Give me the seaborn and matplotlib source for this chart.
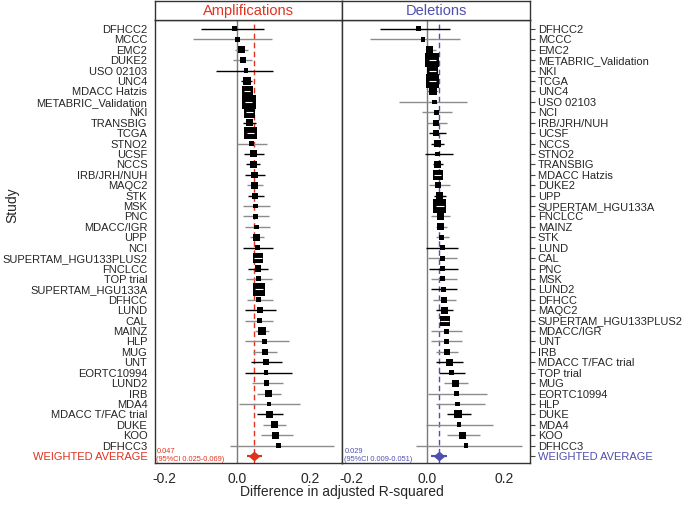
"""Forest plot: difference in adjusted R-squared per study, amplifications vs deletions."""

import matplotlib.pyplot as plt
import numpy as np
import pandas as pd
import seaborn as sns
from matplotlib.path import Path

RED = "#e0321f"
BLUE = "#4f4fb0"
GRAY_CI = "#8c8c8c"

# ---- Amplifications ----
amp_studies = [
    "DFHCC2", "MCCC", "EMC2", "DUKE2", "USO 02103", "UNC4", "MDACC Hatzis",
    "METABRIC_Validation", "NKI", "TRANSBIG", "TCGA", "STNO2", "UCSF", "NCCS",
    "IRB/JRH/NUH", "MAQC2", "STK", "MSK", "PNC", "MDACC/IGR", "UPP", "NCI",
    "SUPERTAM_HGU133PLUS2", "FNCLCC", "TOP trial", "SUPERTAM_HGU133A", "DFHCC",
    "LUND", "CAL", "MAINZ", "HLP", "MUG", "UNT", "EORTC10994", "LUND2", "IRB",
    "MDA4", "MDACC T/FAC trial", "DUKE", "KOO", "DFHCC3",
]
amp_est = [-0.007, 0.000, 0.010, 0.015, 0.024, 0.026, 0.027, 0.031, 0.034, 0.033, 0.036,
           0.039, 0.045, 0.045, 0.047, 0.047, 0.049, 0.050, 0.050, 0.052, 0.053, 0.055,
           0.057, 0.057, 0.057, 0.059, 0.059, 0.061, 0.061, 0.068, 0.075, 0.076, 0.079,
           0.079, 0.080, 0.086, 0.087, 0.087, 0.102, 0.105, 0.113]
amp_lo = [-0.100, -0.123, -0.007, -0.012, -0.060, 0.011, 0.018, 0.022, 0.024, 0.016, 0.026,
          0.000, 0.017, 0.024, 0.020, 0.025, 0.029, 0.015, 0.015, 0.020, 0.036, 0.014,
          0.045, 0.028, 0.024, 0.048, 0.025, 0.020, 0.021, 0.049, 0.020, 0.042, 0.038,
          0.020, 0.040, 0.054, 0.003, 0.053, 0.071, 0.064, -0.021]
amp_hi = [0.072, 0.095, 0.029, 0.040, 0.099, 0.041, 0.036, 0.040, 0.044, 0.050, 0.046,
          0.081, 0.072, 0.062, 0.077, 0.070, 0.073, 0.090, 0.087, 0.089, 0.072, 0.098,
          0.069, 0.084, 0.095, 0.070, 0.097, 0.105, 0.098, 0.087, 0.142, 0.110, 0.122,
          0.151, 0.125, 0.119, 0.173, 0.125, 0.134, 0.154, 0.266]
amp_box = [3.2, 2.8, 4.5, 4.2, 2.8, 5.5, 7.0, 9.0, 7.0, 4.5, 8.0, 3.0, 4.5, 4.5, 4.0,
           4.5, 3.8, 3.0, 3.0, 3.0, 4.3, 3.0, 6.5, 4.2, 3.2, 8.0, 3.2, 3.8, 3.3, 5.0,
           3.0, 4.2, 3.6, 3.0, 3.6, 4.5, 2.8, 4.5, 4.5, 4.3, 2.8]
amp_ci = ["k", "g", "g", "g", "k", "k", "k", "k", "k", "k", "k", "g", "k", "k", "k",
          "g", "k", "g", "g", "g", "g", "k", "k", "k", "g", "k", "g", "k", "g", "g",
          "g", "g", "k", "k", "g", "g", "g", "k", "g", "g", "g"]
amp_avg = [0.047, 0.025, 0.069]

# ---- Deletions ----
del_studies = [
    "DFHCC2", "MCCC", "EMC2", "METABRIC_Validation", "NKI", "TCGA", "UNC4",
    "USO 02103", "NCI", "IRB/JRH/NUH", "UCSF", "NCCS", "STNO2", "TRANSBIG",
    "MDACC Hatzis", "DUKE2", "UPP", "SUPERTAM_HGU133A", "FNCLCC", "MAINZ", "STK",
    "LUND", "CAL", "PNC", "MSK", "LUND2", "DFHCC", "MAQC2", "SUPERTAM_HGU133PLUS2",
    "MDACC/IGR", "UNT", "IRB", "MDACC T/FAC trial", "TOP trial", "MUG", "EORTC10994",
    "HLP", "DUKE", "MDA4", "KOO", "DFHCC3",
]
del_est = [-0.024, -0.012, 0.006, 0.012, 0.013, 0.014, 0.014, 0.018, 0.023, 0.023, 0.023,
           0.026, 0.027, 0.027, 0.027, 0.027, 0.032, 0.032, 0.034, 0.034, 0.037, 0.038,
           0.038, 0.040, 0.040, 0.041, 0.043, 0.044, 0.045, 0.049, 0.050, 0.051, 0.057,
           0.063, 0.073, 0.076, 0.079, 0.080, 0.082, 0.091, 0.101]
del_lo = [-0.123, -0.149, -0.005, 0.003, 0.004, 0.005, 0.002, -0.075, -0.014, -0.001, 0.004,
          0.010, -0.007, 0.014, 0.018, 0.004, 0.016, 0.022, 0.010, 0.021, 0.021, -0.005,
          0.001, 0.004, 0.009, 0.009, 0.014, 0.022, 0.034, 0.010, 0.010, 0.021, 0.023,
          0.030, 0.043, 0.001, 0.022, 0.050, -0.005, 0.050, -0.031]
del_hi = [0.058, 0.084, 0.021, 0.021, 0.022, 0.023, 0.026, 0.104, 0.064, 0.051, 0.049,
          0.043, 0.067, 0.041, 0.036, 0.058, 0.049, 0.042, 0.060, 0.051, 0.056, 0.080,
          0.076, 0.080, 0.077, 0.077, 0.075, 0.068, 0.056, 0.091, 0.091, 0.080, 0.093,
          0.097, 0.106, 0.156, 0.151, 0.115, 0.172, 0.137, 0.246]
del_box = [3.2, 3.0, 4.5, 9.0, 6.5, 8.5, 5.0, 3.0, 3.2, 4.0, 4.0, 4.5, 3.0, 4.5, 6.5,
           3.5, 4.5, 8.5, 4.0, 4.5, 3.5, 3.2, 3.2, 3.2, 3.2, 3.2, 3.5, 4.5, 6.5, 3.2,
           3.2, 4.0, 4.5, 3.5, 4.5, 3.0, 3.0, 5.0, 3.0, 4.5, 2.8]
del_ci = ["k", "g", "g", "k", "k", "k", "k", "g", "g", "g", "k", "k", "k", "k", "k",
          "g", "k", "k", "g", "g", "g", "k", "g", "k", "g", "k", "g", "k", "k", "g",
          "g", "g", "k", "k", "g", "g", "g", "k", "g", "g", "g"]
del_avg = [0.029, 0.009, 0.051]

DIAMOND = Path([(-1, 0), (0, 0.85), (1, 0), (0, -0.85), (-1, 0)],
               [Path.MOVETO, Path.LINETO, Path.LINETO, Path.LINETO, Path.CLOSEPOLY])


def draw_panel(ax, strip, studies, est, lo, hi, box, ci, avg, color, title, xlim, side):
    """One forest panel with its coloured strip title."""
    n = len(studies)
    df = pd.DataFrame({"study": studies, "est": est, "lo": lo, "hi": hi,
                       "box": box, "ci": ci, "row": np.arange(n)})
    df["area"] = (df["box"] * 1.12) ** 2

    ax.axvline(0, color="#7a7a7a", lw=1, zorder=1)
    ax.axvline(avg[0], color=color, lw=1, ls=(0, (4, 2.5)), zorder=1)
    ax.hlines(df["row"], df["lo"], df["hi"],
              colors=df["ci"].map({"k": "black", "g": GRAY_CI}), lw=1, zorder=2)
    sns.scatterplot(data=df, x="est", y="row", size="area",
                    sizes=(df["area"].min(), df["area"].max()), marker="s",
                    color="black", linewidth=0, legend=False, ax=ax, zorder=3)
    big = df[df["box"] >= 6.5]
    ax.hlines(big["row"], big["lo"], big["hi"], colors="white", lw=0.8, zorder=4)

    # weighted average
    ax.hlines(n, avg[1], avg[2], colors=color, lw=1.5, zorder=3)
    ax.scatter([avg[0]], [n], marker=DIAMOND, s=70, color=color, lw=0, zorder=4)
    tx = 0.008 if side == "left" else 0.012
    ax.text(tx, n - 0.05, f"{avg[0]:.3f}\n(95%CI {avg[1]:.3f}-{avg[2]:.3f})",
            transform=ax.get_yaxis_transform(), fontsize=5.3, color=color,
            va="center", ha="left", linespacing=1.1)

    ax.set_xlim(*xlim)
    ax.set_ylim(n + 0.67, -0.86)
    ax.set_xticks([-0.2, 0.0, 0.2])
    ax.set_xticklabels(["-0.2", "0.0", "0.2"], fontsize=10)
    ax.set_yticks(np.arange(n + 1))
    ax.set_yticklabels(list(studies) + ["WEIGHTED AVERAGE"], fontsize=8)
    ax.set_xlabel("")
    ax.set_ylabel("")
    if side == "right":
        ax.yaxis.tick_right()
    last = ax.yaxis.get_major_ticks()[-1]
    last.label1.set_color(color)
    last.label2.set_color(color)
    ax.tick_params(direction="out", length=3.5, width=0.8, color="#444444", pad=2)
    ax.tick_params(axis="x", pad=3)
    for sp in ax.spines.values():
        sp.set_color("#333333")
        sp.set_linewidth(1)

    strip.set_xticks([])
    strip.set_yticks([])
    for sp in strip.spines.values():
        sp.set_color("#333333")
        sp.set_linewidth(1)
    strip.text(0.5, 0.47, title, color=color, fontsize=10.5,
               ha="center", va="center", transform=strip.transAxes)


sns.set_theme(style="white")
plt.rcParams["font.family"] = ["Liberation Sans", "DejaVu Sans"]

fig = plt.figure(figsize=(6.85, 5.08), dpi=100)
W, H = 685, 508
bottom = 1 - 463 / H
height = (463 - 20) / H
ax_amp = fig.add_axes([155 / W, bottom, 187 / W, height])
ax_del = fig.add_axes([342 / W, bottom, 188 / W, height])
st_amp = fig.add_axes([155 / W, 1 - 20 / H, 187 / W, 19.5 / H])
st_del = fig.add_axes([342 / W, 1 - 20 / H, 188 / W, 19.5 / H])

draw_panel(ax_amp, st_amp, amp_studies, amp_est, amp_lo, amp_hi, amp_box, amp_ci,
           amp_avg, RED, "Amplifications", (-0.227, 0.288), "left")
draw_panel(ax_del, st_del, del_studies, del_est, del_lo, del_hi, del_box, del_ci,
           del_avg, BLUE, "Deletions", (-0.2235, 0.268), "right")

fig.text(342 / W, 1 - 492 / H, "Difference in adjusted R-squared", fontsize=10,
         ha="center", va="center")
fig.text(12 / W, 1 - 205 / H, "Study", fontsize=10, rotation=90,
         ha="center", va="center")

fig.savefig("out.png", dpi=100)
